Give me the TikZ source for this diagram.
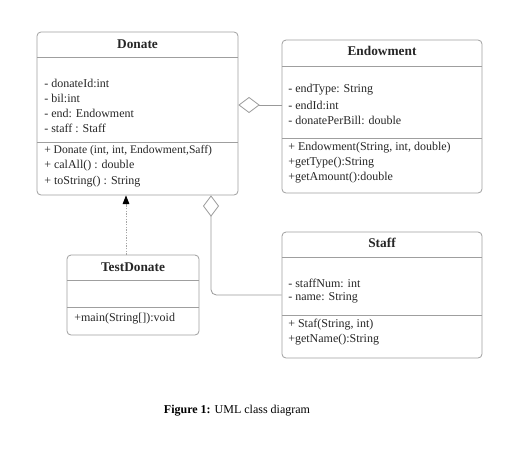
\documentclass[tikz,border=0pt]{standalone}
\usepackage{fontspec}
\setmainfont{Liberation Serif}
\usetikzlibrary{arrows.meta,fit}

\tikzset{
  classbox/.style={draw=gray!75, rounded corners=3pt, inner sep=0pt, line width=0.6pt},
  classline/.style={draw=gray!75, line width=0.6pt},
  classname/.style={inner sep=0pt, font=\bfseries\fontsize{10}{12}\selectfont, text=black!85},
  member/.style={anchor=west, inner sep=0pt, font=\fontsize{9}{11}\selectfont, text=black!85},
  aggr/.style={draw=gray!80, line width=0.6pt, {Diamond[open, length=16pt, width=12pt]}-},
  realize/.style={draw=gray!70, dash pattern=on 1pt off 1pt, line width=0.7pt, -{Triangle[length=6.5pt, width=5pt, fill=black, color=black]}},
}

\begin{document}
\begin{tikzpicture}[x=0.75pt, y=-0.75pt]
    \useasboundingbox (0,0) rectangle (507,451);

    %for donate
    \node[classbox, fit={(37,32) (238,195)}] (donate) {};
    \node[classname] (donateName) at (137.5,44) {Donate};
    \draw[classline] (37,57) -- (238,57);
    \node[member] (donateA1) at (44,83) {- donateId:int};
    \node[member] (donateA2) at (44,98) {- bil:int};
    \node[member] (donateA3) at (44,113) {- end: Endowment};
    \node[member] (donateA4) at (44,128) {- staff : Staff};
    \draw[classline] (37,142) -- (238,142);
    \node[member, font=\fontsize{8.7}{11}\selectfont] (donateM1) at (44,151) {+ Donate (int, int, Endowment,Saff)};
    \node[member] (donateM2) at (44,166) {+ calAll() : double};
    \node[member] (donateM3) at (44,182) {+ toString() : String};

    %for endowment
    \node[classbox, fit={(282,40) (482,193)}] (endowment) {};
    \node[classname] (endowmentName) at (382,51) {Endowment};
    \draw[classline] (282,66) -- (482,66);
    \node[member] (endowmentA1) at (288,90) {- endType: String};
    \node[member] (endowmentA2) at (288,105) {- endId:int};
    \node[member] (endowmentA3) at (288,120) {- donatePerBill: double};
    \draw[classline] (282,138) -- (482,138);
    \node[member] (endowmentM1) at (288,148) {+ Endowment(String, int, double)};
    \node[member] (endowmentM2) at (288,163) {+getType():String};
    \node[member] (endowmentM3) at (288,178) {+getAmount():double};

    %for staff
    \node[classbox, fit={(282,232) (482,358)}] (staff) {};
    \node[classname] (staffName) at (382,243) {Staff};
    \draw[classline] (282,257) -- (482,257);
    \node[member] (staffA1) at (288,283) {- staffNum: int};
    \node[member] (staffA2) at (288,298) {- name: String};
    \draw[classline] (282,315) -- (482,315);
    \node[member] (staffM1) at (288,325) {+ Staf(String, int)};
    \node[member] (staffM2) at (288,340) {+getName():String};

    %for testdonate
    \node[classbox, fit={(67,255) (199,335)}] (testdonate) {};
    \node[classname] (testdonateName) at (133,267) {TestDonate};
    \draw[classline] (67,280) -- (199,280);
    \draw[classline] (67,307) -- (199,307);
    \node[member] (testdonateM1) at (74,319) {+main(String[]):void};

    %connectors
    \draw[aggr] (donate.east |- 0,105) -- (endowment.west |- 0,105);
    \draw[aggr, rounded corners=4pt] (donate.south -| 211,0) |- (staff.west |- 0,295);
    \draw[realize] (testdonate.north -| 126,0) -- (donate.south -| 126,0);

    \node (caption) at (237,411) {\fontsize{9}{11}\selectfont\textbf{Figure 1:} UML class diagram};
\end{tikzpicture}
\end{document}
